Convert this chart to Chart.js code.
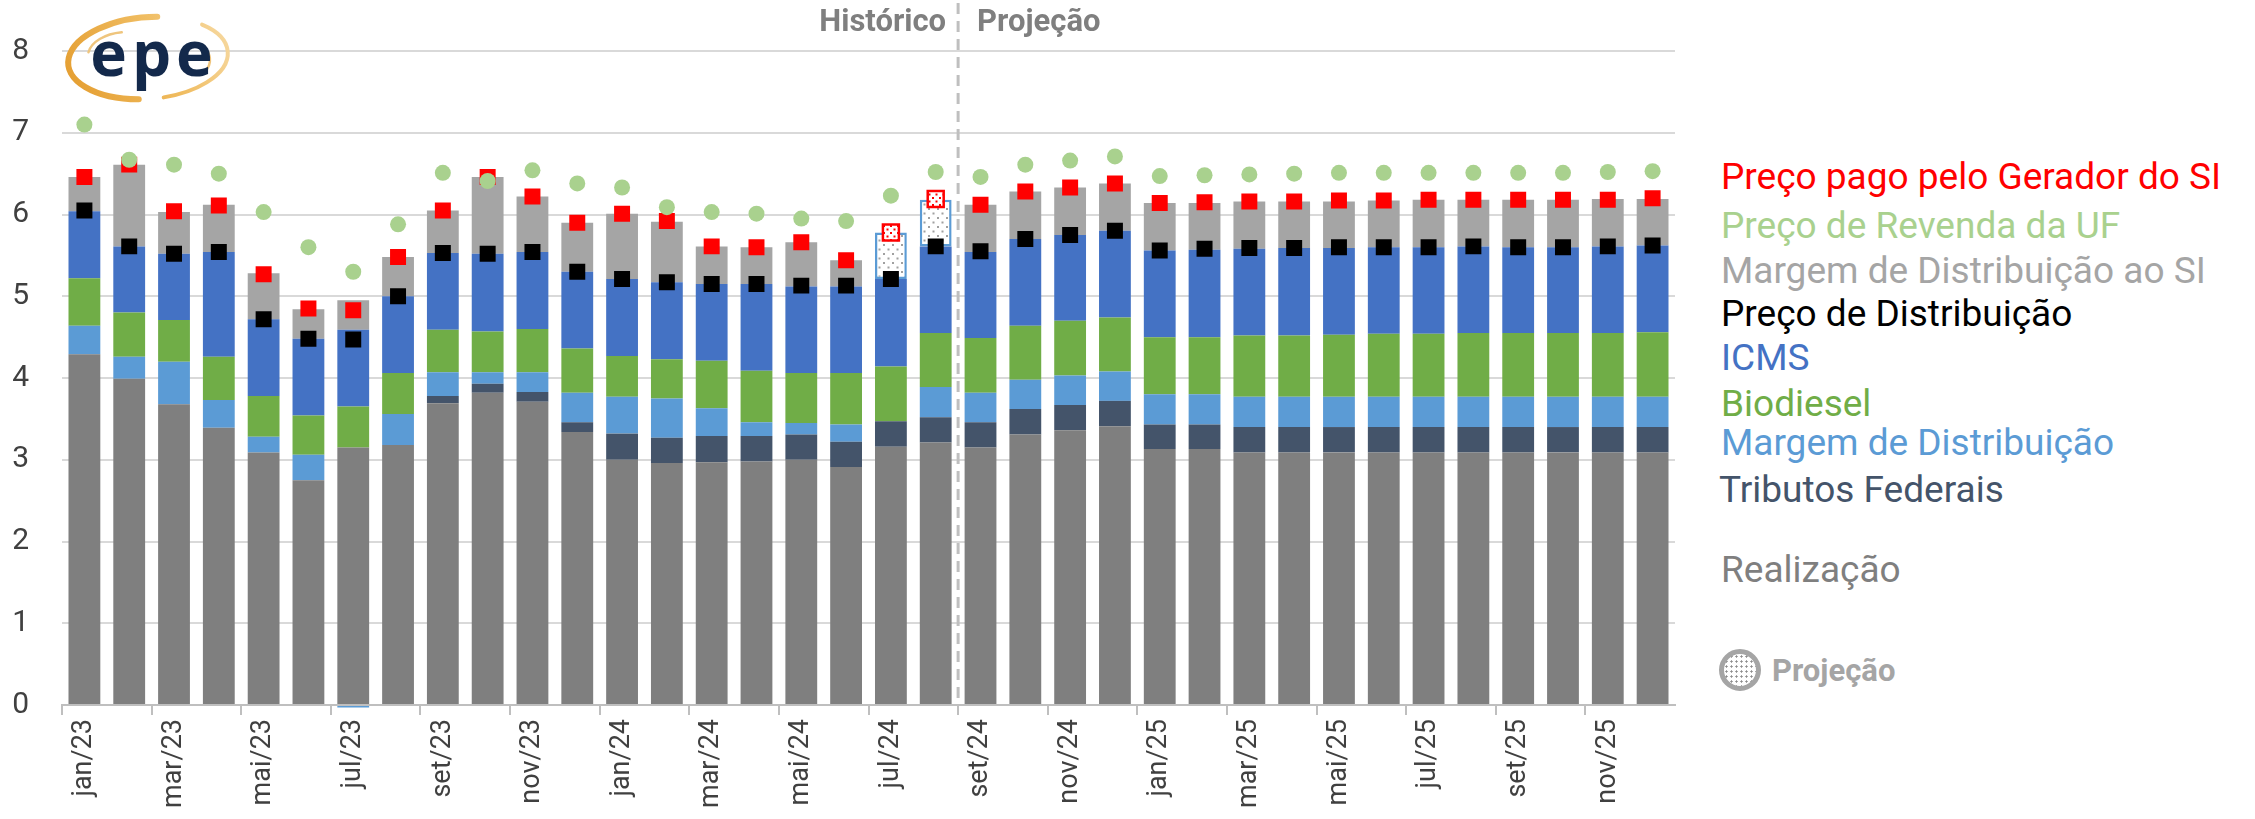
<!DOCTYPE html>
<html><head><meta charset="utf-8">
<script src="https://cdn.jsdelivr.net/npm/chart.js@4.4.1/dist/chart.umd.min.js"></script>
<style>
html,body{margin:0;padding:0;background:#fff;}
body{width:2255px;height:819px;position:relative;overflow:hidden;font-family:Roboto, sans-serif;}
#wrap{position:absolute;left:0;top:0;width:1700px;height:819px;}
.lg{position:absolute;left:1721px;font-size:37px;line-height:1;white-space:nowrap;transform:translateY(-50%);}
#projIcon{position:absolute;left:1719px;top:649px;width:32px;height:32px;border:5px solid #a5a5a5;border-radius:50%;
 background:radial-gradient(circle, #8c8c8c 0.9px, rgba(0,0,0,0) 1.3px) 0 0/5px 5px, #fff;}
#projTxt{position:absolute;left:1772px;top:670px;transform:translateY(-50%);font-size:31px;font-weight:bold;color:#a5a5a5;line-height:1;}
</style></head><body>
<div id="wrap"><canvas id="c" width="1700" height="819"></canvas></div>
<div class="lg" style="top:176px;color:#ff0000">Preço pago pelo Gerador do SI</div>
<div class="lg" style="top:225px;color:#a9d18e">Preço de Revenda da UF</div>
<div class="lg" style="top:270px;color:#a5a5a5">Margem de Distribuição ao SI</div>
<div class="lg" style="top:313px;color:#000000">Preço de Distribuição</div>
<div class="lg" style="top:357px;color:#4472c4">ICMS</div>
<div class="lg" style="top:403px;color:#70ad47">Biodiesel</div>
<div class="lg" style="top:442px;color:#5b9bd5">Margem de Distribuição</div>
<div class="lg" style="top:489px;left:1719px;color:#44546a">Tributos Federais</div>
<div class="lg" style="top:569px;color:#7f7f7f">Realização</div>
<div id="projIcon"></div>
<div id="projTxt">Projeção</div>
<script>
const months = ['jan/23','fev/23','mar/23','abr/23','mai/23','jun/23','jul/23','ago/23','set/23','out/23','nov/23','dez/23',
  'jan/24','fev/24','mar/24','abr/24','mai/24','jun/24','jul/24','ago/24','set/24','out/24','nov/24','dez/24',
  'jan/25','fev/25','mar/25','abr/25','mai/25','jun/25','jul/25','ago/25','set/25','out/25','nov/25','dez/25'];
const mesesProjetados = ['jul/24','ago/24'];
const inicioProjecao = 'set/24';
const yTicks = [0,1,2,3,4,5,6,7,8];

const realizacao = [4.29,3.99,3.68,3.39,3.09,2.75,3.15,3.18,3.69,3.82,3.71,3.34,3.00,2.96,2.97,2.98,3.00,2.91,3.16,3.21,3.15,3.31,3.36,3.41,3.13,3.13,3.09,3.09,3.09,3.09,3.09,3.09,3.09,3.09,3.09,3.09];
const tributosFederais = [0,0,0,0,0,0,0,0,0.09,0.11,0.12,0.12,0.32,0.31,0.32,0.31,0.31,0.31,0.31,0.31,0.31,0.31,0.31,0.31,0.30,0.30,0.31,0.31,0.31,0.31,0.31,0.31,0.31,0.31,0.31,0.31];
const margemDistribuicao = [0.35,0.27,0.52,0.34,0.19,0.31,-0.03,0.38,0.29,0.14,0.24,0.36,0.45,0.48,0.34,0.17,0.14,0.21,0.00,0.37,0.36,0.36,0.36,0.36,0.37,0.37,0.37,0.37,0.37,0.37,0.37,0.37,0.37,0.37,0.37,0.37];
const biodiesel = [0.58,0.54,0.51,0.53,0.50,0.48,0.50,0.50,0.52,0.50,0.53,0.54,0.50,0.48,0.58,0.63,0.61,0.63,0.67,0.66,0.67,0.66,0.67,0.66,0.70,0.70,0.75,0.75,0.76,0.77,0.77,0.78,0.78,0.78,0.78,0.79];
const icms = [0.82,0.81,0.81,1.28,0.94,0.94,0.94,0.94,0.94,0.95,0.94,0.94,0.94,0.94,0.94,1.06,1.06,1.06,1.07,1.06,1.05,1.06,1.05,1.06,1.06,1.07,1.06,1.07,1.06,1.06,1.06,1.06,1.05,1.05,1.06,1.06];
const margemDistribuicaoSI = [0.42,1.00,0.51,0.58,0.56,0.36,0.36,0.48,0.52,0.94,0.68,0.60,0.80,0.74,0.46,0.45,0.54,0.32,0.57,0.57,0.58,0.58,0.58,0.58,0.58,0.57,0.58,0.57,0.57,0.57,0.58,0.57,0.58,0.58,0.58,0.57];

const precoDistribuicao = [6.05,5.61,5.52,5.54,4.72,4.48,4.47,5.00,5.53,5.52,5.54,5.30,5.21,5.17,5.15,5.15,5.13,5.13,5.21,5.61,5.55,5.70,5.75,5.80,5.56,5.58,5.59,5.59,5.60,5.60,5.60,5.61,5.60,5.60,5.61,5.62];
const precoGerador = [6.46,6.61,6.04,6.11,5.27,4.85,4.83,5.48,6.05,6.46,6.22,5.90,6.01,5.92,5.61,5.60,5.66,5.44,5.78,6.19,6.12,6.28,6.33,6.38,6.14,6.15,6.16,6.16,6.17,6.17,6.18,6.18,6.18,6.18,6.18,6.20];
const precoRevenda = [7.10,6.67,6.61,6.50,6.03,5.60,5.30,5.88,6.51,6.41,6.54,6.38,6.33,6.09,6.03,6.01,5.95,5.92,6.23,6.52,6.46,6.61,6.66,6.71,6.47,6.48,6.49,6.50,6.51,6.51,6.51,6.51,6.51,6.51,6.52,6.53];

const isProj = i => mesesProjetados.includes(months[i]);

function makePattern(dot, bg, step, size) {
  const c = document.createElement('canvas'); c.width = step; c.height = step;
  const x = c.getContext('2d');
  x.fillStyle = bg; x.fillRect(0,0,step,step);
  x.fillStyle = dot;
  x.fillRect(1,1,size,size);
  x.fillRect(1+step/2,1+step/2,size,size);
  return x.createPattern(c, 'repeat');
}
const ctx = document.getElementById('c').getContext('2d');
const greyPattern = makePattern('#a0a0a0', '#ffffff', 9, 2);
const redPattern = makePattern('#ff0000', '#ffffff', 7, 2);

function barDs(label, data, color, extra) {
  return Object.assign({type:'bar', label, data, backgroundColor: color, borderWidth: 0, order: 4,
    categoryPercentage: 1, barPercentage: 0.71}, extra || {});
}

const divisorPlugin = {
  id: 'divisor',
  afterDatasetsDraw(chart) {
    const {ctx, chartArea, scales: {x}} = chart;
    const i = months.indexOf(inicioProjecao);
    const xp = (x.getPixelForValue(i - 1) + x.getPixelForValue(i)) / 2;
    ctx.save();
    ctx.setLineDash([11, 7]);
    ctx.strokeStyle = '#bfbfbf'; ctx.lineWidth = 3;
    ctx.beginPath(); ctx.moveTo(xp, 3); ctx.lineTo(xp, chartArea.bottom); ctx.stroke();
    ctx.setLineDash([]);
    ctx.font = 'bold 31px Roboto'; ctx.fillStyle = '#7f7f7f'; ctx.textBaseline = 'middle';
    ctx.textAlign = 'right'; ctx.fillText('Histórico', xp - 12, 23);
    ctx.textAlign = 'left'; ctx.fillText('Projeção', xp + 19, 23);
    ctx.restore();
  }
};

const logoPlugin = {
  id: 'logo',
  afterDraw(chart) {
    const c = chart.ctx;
    c.save();
    const cx = 148, cy = 58;
    const g = c.createLinearGradient(60, 100, 230, 15);
    g.addColorStop(0, '#e39a2a'); g.addColorStop(0.6, '#f0bd62'); g.addColorStop(1, '#f7dca8');
    c.strokeStyle = g; c.lineCap = 'round';
    c.lineWidth = 6;
    c.beginPath(); c.ellipse(cx, cy, 80, 41, -0.08, Math.PI * 0.55, Math.PI * 1.55); c.stroke();
    c.lineWidth = 4;
    c.beginPath(); c.ellipse(cx, cy, 80, 41, -0.08, Math.PI * 1.75, Math.PI * 2.45); c.stroke();
    c.lineWidth = 2.5; c.strokeStyle = '#efc57d';
    c.beginPath(); c.ellipse(cx - 20, cy - 2, 40, 24, 0, Math.PI * 1.05, Math.PI * 1.45); c.stroke();
    c.beginPath(); c.ellipse(cx + 22, cy + 2, 40, 24, 0, Math.PI * 1.85, Math.PI * 2.2); c.stroke();
    c.fillStyle = '#13294b';
    c.font = 'bold 62px "Open Sans"';
    c.letterSpacing = '5px';
    c.textAlign = 'center'; c.textBaseline = 'alphabetic';
    c.fillText('epe', cx + 6, 76);
    c.restore();
  }
};

new Chart(ctx, {
  type: 'bar',
  data: {
    labels: months,
    datasets: [
      {type:'line', label:'Preço de Revenda da UF', data: precoRevenda, showLine:false, stack:'pRev', order:0,
        pointStyle:'circle', pointRadius:8, pointHoverRadius:8, pointBackgroundColor:'#a9d18e', pointBorderWidth:0},
      {type:'line', label:'Preço pago pelo Gerador do SI', data: precoGerador, showLine:false, stack:'pGer', order:1,
        pointStyle:'rect', pointRadius:11.3, pointHoverRadius:11.3,
        pointBackgroundColor: c => isProj(c.dataIndex) ? redPattern : '#ff0000',
        pointBorderColor:'#ff0000', pointBorderWidth: c => isProj(c.dataIndex) ? 2.5 : 0},
      {type:'line', label:'Preço de Distribuição', data: precoDistribuicao, showLine:false, stack:'pDis', order:2,
        pointStyle:'rect', pointRadius:11.3, pointHoverRadius:11.3, pointBackgroundColor:'#000000', pointBorderWidth:0},
      barDs('Realização', realizacao, '#7f7f7f'),
      barDs('Tributos Federais', tributosFederais, '#44546a'),
      barDs('Margem de Distribuição', margemDistribuicao, '#5b9bd5', {clip: false}),
      barDs('Biodiesel', biodiesel, '#70ad47'),
      barDs('ICMS', icms, '#4472c4'),
      barDs('Margem de Distribuição ao SI', margemDistribuicaoSI, '#a5a5a5', {
        backgroundColor: c => isProj(c.dataIndex) ? greyPattern : '#a5a5a5',
        borderColor: '#5b9bd5',
        borderWidth: c => isProj(c.dataIndex) ? 2.5 : 0,
        borderSkipped: false
      })
    ]
  },
  options: {
    responsive: false,
    animation: false,
    layout: {padding: {top: 47, right: 25, left: 0, bottom: 0}},
    plugins: {legend: {display: false}, tooltip: {enabled: false}},
    scales: {
      x: {
        stacked: true,
        grid: {offset: true, drawOnChartArea: false, drawTicks: true, tickLength: 10, lineWidth: 2,
          color: c => (c.index !== undefined && c.index % 2 === 0) ? '#bfbfbf' : 'rgba(0,0,0,0)'},
        border: {display: true, color: '#bfbfbf', width: 2},
        ticks: {autoSkip: false, minRotation: 90, maxRotation: 90, padding: 4, color: '#404040',
          font: {family: 'Roboto', size: 27},
          callback: (v, i) => i % 2 === 0 ? months[i] : ''},
        afterFit(s) { s.height = 114; }
      },
      y: {
        stacked: true, min: 0, max: 8,
        afterBuildTicks(s) { s.ticks = yTicks.map(v => ({value: v})); },
        grid: {color: '#d9d9d9', lineWidth: 2, drawTicks: false},
        border: {display: false},
        ticks: {color: '#404040', padding: 33, font: {family: 'Roboto', size: 30}},
        afterFit(s) { s.width = 62; }
      }
    }
  },
  plugins: [divisorPlugin, logoPlugin]
});
</script>
</body></html>
